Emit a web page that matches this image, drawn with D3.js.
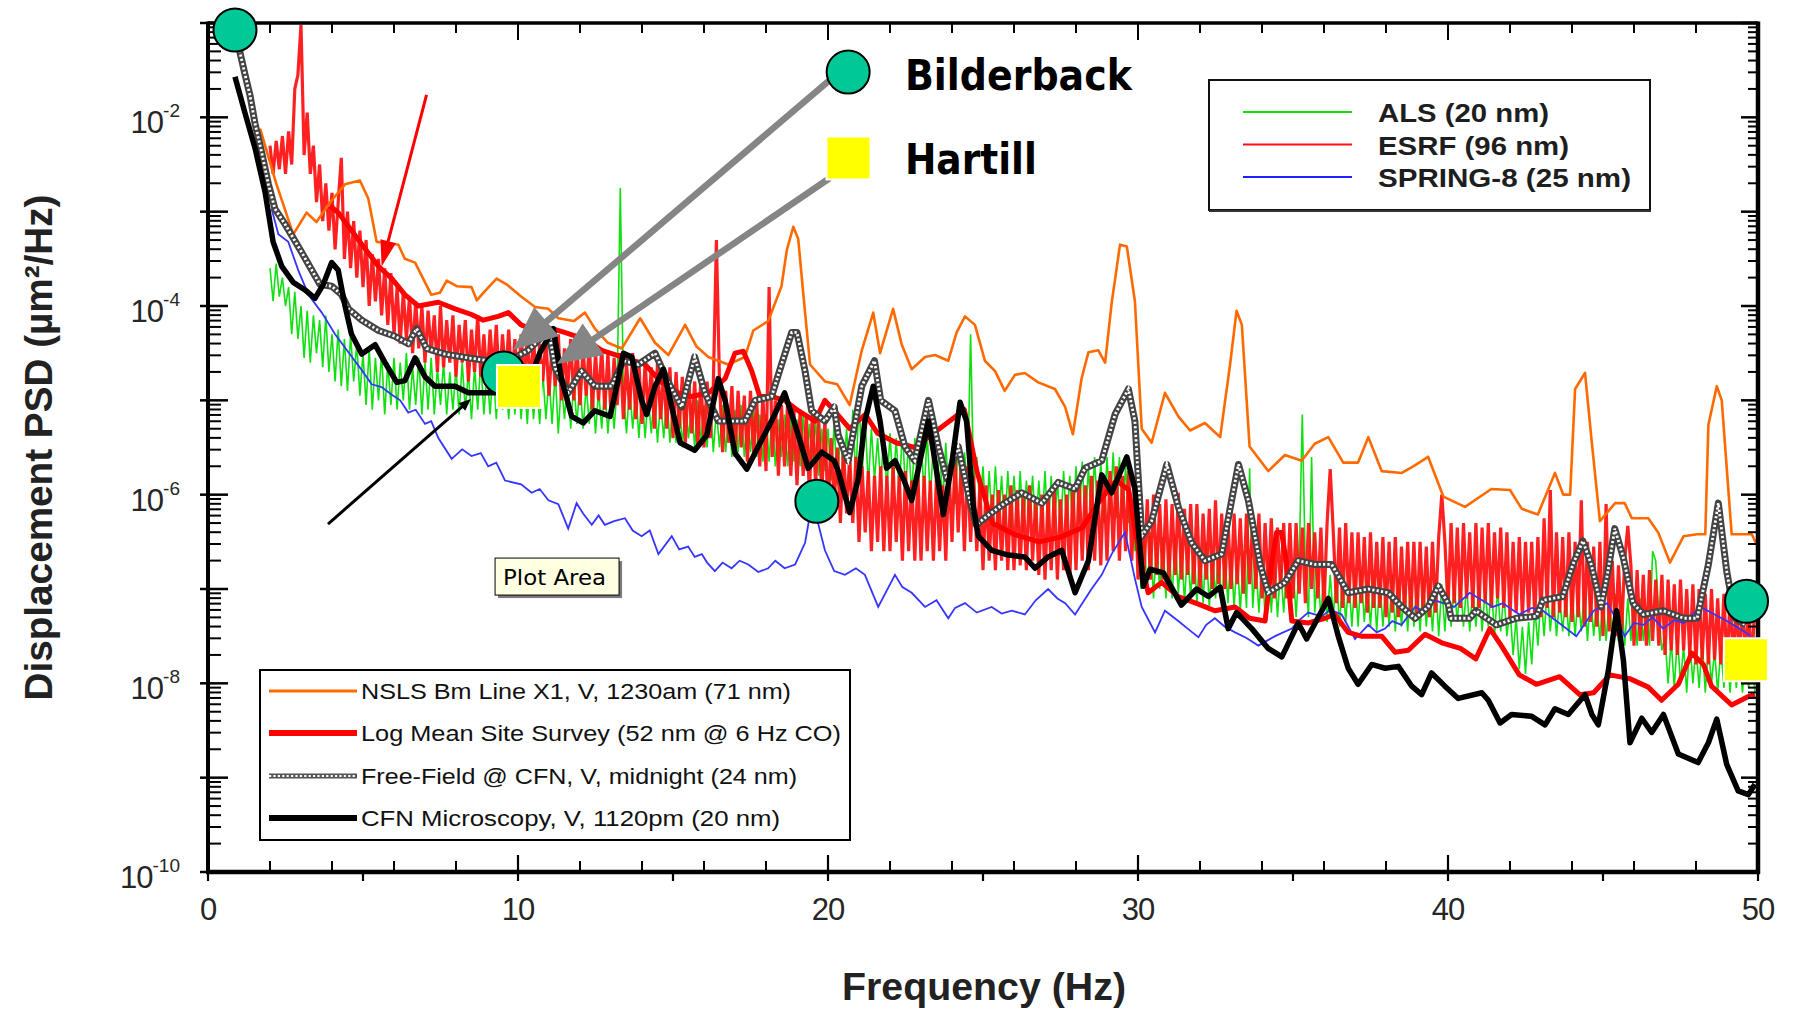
<!DOCTYPE html>
<html><head><meta charset="utf-8">
<script src="https://cdn.jsdelivr.net/npm/d3@7"></script>
<style>html,body{margin:0;padding:0;background:#fff;}svg{display:block;}</style>
</head><body>
<svg id="chart" width="1797" height="1010"></svg>
<script>
// ---------------- DATA (frequency in Hz, PSD given as log10 of µm²/Hz) ----------------
const xTickValues = [0, 10, 20, 30, 40, 50];
const yTickExponents = [-2, -4, -6, -8, -10];
const xAxisTitle = "Frequency (Hz)";
const yAxisTitle = "Displacement PSD (µm²/Hz)";
const legendBottomLabels = ["NSLS Bm Line X1, V, 1230am (71 nm)", "Log Mean Site Survey (52 nm @ 6 Hz CO)", "Free-Field @ CFN, V, midnight (24 nm)", "CFN Microscopy, V, 1120pm (20 nm)"];
const legendTopLabels = ["ALS (20 nm)", "ESRF (96 nm)", "SPRING-8 (25 nm)"];

// NSLS Bm Line X1 (orange)
const nslsLog = [[1.68,-2.12],[2.2,-2.7],[2.75,-3.24],[3.18,-3.01],[3.5,-3.11],[3.94,-2.90],[4.42,-2.71],[4.9,-2.67],[5.17,-2.86],[5.44,-3.32],[5.76,-3.33],[6.14,-3.35],[6.35,-3.50],[6.68,-3.54],[7.2,-3.88],[7.48,-3.86],[7.7,-3.73],[8.02,-3.79],[8.5,-3.80],[8.67,-3.94],[8.94,-3.84],[9.31,-3.71],[9.63,-3.77],[10.1,-3.90],[10.55,-4.01],[10.98,-4.03],[11.3,-4.13],[11.8,-4.16],[12.16,-4.07],[12.48,-4.24],[12.9,-4.39],[13.35,-4.45],[13.94,-4.13],[14.42,-4.39],[14.85,-4.52],[15.39,-4.20],[15.76,-4.43],[16.14,-4.54],[16.78,-4.62],[17.32,-4.54],[17.59,-4.26],[18.07,-4.16],[18.5,-3.79],[18.67,-3.41],[18.88,-3.16],[19.04,-3.29],[19.2,-3.86],[19.42,-4.62],[19.9,-4.80],[20.3,-4.83],[20.7,-5.05],[21.09,-4.47],[21.46,-4.07],[21.68,-4.50],[22.1,-4.03],[22.38,-4.41],[22.7,-4.67],[23.13,-4.54],[23.45,-4.52],[23.88,-4.58],[24.15,-4.28],[24.42,-4.11],[24.74,-4.20],[25.06,-4.58],[25.39,-4.69],[25.7,-4.90],[26.03,-4.73],[26.35,-4.71],[26.78,-4.81],[27.32,-4.88],[27.65,-5.07],[27.9,-5.36],[28.18,-4.77],[28.4,-4.49],[28.72,-4.47],[28.94,-4.60],[29.15,-3.97],[29.42,-3.35],[29.64,-3.37],[29.9,-3.95],[30.12,-5.30],[30.44,-5.45],[30.87,-4.92],[31.3,-5.17],[31.68,-5.32],[32.16,-5.24],[32.65,-5.39],[32.97,-4.62],[33.18,-4.05],[33.35,-4.20],[33.6,-5.49],[34.2,-5.75],[34.74,-5.58],[35.28,-5.64],[35.7,-5.46],[36.14,-5.39],[36.62,-5.66],[37.1,-5.66],[37.43,-5.39],[37.86,-5.75],[38.51,-5.77],[38.88,-5.70],[39.36,-5.60],[39.85,-6.02],[40.55,-6.13],[41.4,-5.94],[42.0,-5.95],[42.38,-6.15],[42.9,-6.21],[43.45,-5.77],[43.72,-6.00],[43.94,-6.00],[44.1,-4.88],[44.42,-4.71],[44.64,-5.45],[44.9,-6.28],[45.39,-6.09],[45.7,-6.09],[45.93,-6.25],[46.46,-6.25],[46.78,-6.40],[47.16,-6.72],[47.6,-6.44],[48.04,-6.42],[48.3,-6.42],[48.4,-5.26],[48.67,-4.85],[48.83,-5.00],[49.15,-6.42],[49.8,-6.42],[49.96,-6.53]];

// Log Mean Site Survey (thick red)
const logMeanLog = [[3.94,-2.94],[4.2,-3.01],[4.63,-3.20],[5.06,-3.39],[5.5,-3.58],[5.93,-3.71],[6.35,-3.88],[6.78,-4.0],[7.43,-3.96],[7.97,-4.03],[8.5,-4.09],[8.88,-4.15],[9.36,-4.11],[9.69,-4.07],[10.1,-4.20],[10.55,-4.26],[11.1,-4.24],[11.5,-4.28],[12.16,-4.35],[12.7,-4.47],[13.35,-4.54],[14.1,-4.62],[14.63,-4.81],[15.17,-4.92],[15.6,-4.96],[16.14,-4.92],[16.68,-4.77],[17.0,-4.50],[17.27,-4.48],[17.54,-4.69],[17.8,-4.96],[18.2,-4.96],[18.6,-5.0],[19.04,-5.11],[19.58,-5.22],[19.9,-5.0],[20.2,-5.11],[20.7,-5.3],[21.2,-5.15],[21.6,-5.35],[22.2,-5.45],[22.8,-5.5],[23.4,-5.35],[24.0,-5.2],[24.4,-5.1],[24.8,-5.75],[25.3,-6.3],[26.0,-6.42],[26.8,-6.5],[27.5,-6.45],[28.2,-6.35],[28.8,-6.05],[29.3,-5.85],[29.7,-5.95],[30.07,-6.7],[30.33,-7.04],[30.76,-6.93],[31.3,-7.08],[31.95,-7.16],[32.48,-7.23],[33.13,-7.19],[33.6,-7.31],[34.1,-7.34],[34.31,-6.74],[34.47,-6.40],[34.63,-6.40],[34.8,-6.74],[34.96,-7.34],[35.5,-7.36],[36.03,-7.31],[36.35,-7.27],[36.78,-7.46],[37.2,-7.50],[37.86,-7.50],[38.29,-7.67],[38.72,-7.65],[39.26,-7.48],[39.8,-7.57],[40.4,-7.63],[40.9,-7.74],[41.35,-7.42],[41.72,-7.60],[42.3,-7.91],[42.85,-8.01],[43.6,-7.93],[44.25,-8.12],[44.7,-8.10],[45.22,-7.91],[45.86,-7.95],[46.46,-8.04],[46.89,-8.18],[47.43,-8.01],[47.86,-7.68],[48.24,-7.80],[48.5,-8.03],[49.15,-8.23],[49.69,-8.14],[49.9,-8.12]];

// Free-Field @ CFN (checkered gray)
const freeFieldLog = [[0.95,-1.15],[1.03,-1.31],[1.19,-1.54],[1.35,-1.76],[1.52,-2.07],[1.73,-2.37],[1.95,-2.71],[2.16,-2.97],[2.48,-3.13],[2.75,-3.28],[3.02,-3.43],[3.35,-3.62],[3.61,-3.77],[3.99,-3.79],[4.31,-3.88],[4.53,-4.03],[4.96,-4.15],[5.5,-4.26],[6.03,-4.32],[6.46,-4.40],[6.73,-4.24],[7.05,-4.45],[7.65,-4.51],[8.4,-4.55],[9.04,-4.58],[9.6,-4.6],[10.33,-4.47],[10.7,-4.35],[10.98,-4.24],[11.2,-4.66],[11.62,-4.92],[12.05,-4.69],[12.48,-4.85],[13.02,-4.85],[13.4,-4.58],[13.88,-4.62],[14.42,-4.50],[14.85,-4.81],[15.28,-5.07],[15.7,-4.54],[16.03,-4.92],[16.46,-5.22],[17.0,-5.22],[17.32,-5.22],[17.65,-5.0],[18.18,-4.96],[18.5,-4.62],[18.83,-4.28],[19.0,-4.28],[19.26,-4.69],[19.47,-5.11],[19.9,-5.22],[20.2,-5.07],[20.33,-5.37],[20.65,-5.64],[21.09,-4.85],[21.5,-4.58],[21.7,-5.0],[22.16,-5.11],[22.48,-5.49],[22.8,-5.64],[23.24,-5.0],[23.56,-5.49],[23.83,-5.83],[24.2,-5.49],[24.52,-5.98],[24.78,-6.32],[25.2,-6.21],[25.7,-6.09],[26.25,-5.98],[26.9,-6.09],[27.43,-5.87],[27.97,-5.94],[28.29,-5.72],[28.83,-5.64],[29.26,-5.15],[29.69,-4.88],[29.9,-5.22],[30.12,-6.44],[30.44,-6.28],[30.93,-5.68],[31.3,-6.13],[31.73,-6.51],[32.16,-6.70],[32.7,-6.63],[33.02,-6.06],[33.24,-5.68],[33.56,-6.06],[33.94,-6.74],[34.2,-7.04],[34.74,-6.93],[35.17,-6.70],[35.7,-6.74],[36.25,-6.74],[36.78,-7.04],[37.43,-7.00],[38.07,-7.04],[38.51,-7.19],[38.94,-7.31],[39.36,-7.19],[39.69,-6.97],[40.0,-7.15],[40.1,-7.31],[40.7,-7.31],[40.9,-7.23],[41.56,-7.38],[42.2,-7.31],[42.85,-7.29],[43.06,-7.12],[43.7,-7.08],[44.03,-6.74],[44.35,-6.49],[44.62,-6.74],[44.94,-7.19],[45.16,-6.81],[45.38,-6.36],[45.65,-6.66],[45.97,-7.15],[46.3,-7.27],[46.94,-7.23],[47.6,-7.31],[48.04,-7.31],[48.4,-6.74],[48.72,-6.09],[48.99,-6.81],[49.26,-7.31],[49.6,-7.38]];

// CFN Microscopy (thick black)
const cfnLog = [[0.87,-1.57],[1.19,-1.95],[1.52,-2.33],[1.84,-2.79],[2.1,-3.32],[2.38,-3.58],[2.75,-3.75],[3.13,-3.83],[3.45,-3.92],[3.72,-3.77],[3.99,-3.54],[4.2,-3.62],[4.42,-4.00],[4.63,-4.30],[4.96,-4.51],[5.39,-4.41],[5.71,-4.60],[6.09,-4.81],[6.35,-4.79],[6.68,-4.55],[7.0,-4.75],[7.32,-4.85],[7.97,-4.85],[8.4,-4.92],[9.04,-4.92],[9.7,-4.92],[10.3,-4.85],[10.7,-4.5],[11.14,-4.24],[11.4,-4.77],[11.73,-5.17],[12.1,-5.24],[12.48,-5.11],[12.97,-5.17],[13.24,-4.77],[13.4,-4.50],[13.67,-4.54],[13.99,-5.0],[14.15,-5.15],[14.42,-4.85],[14.69,-4.67],[14.96,-5.07],[15.23,-5.45],[15.7,-5.53],[16.09,-5.37],[16.46,-4.77],[16.68,-5.0],[17.0,-5.56],[17.38,-5.73],[17.75,-5.49],[18.18,-5.22],[18.6,-4.92],[18.94,-5.26],[19.36,-5.72],[19.8,-5.55],[20.2,-5.64],[20.33,-5.75],[20.7,-6.19],[20.98,-5.83],[21.19,-5.22],[21.46,-4.85],[21.68,-5.22],[21.89,-5.72],[22.16,-5.64],[22.43,-5.83],[22.7,-6.06],[22.97,-5.64],[23.24,-5.22],[23.45,-5.64],[23.72,-6.21],[23.99,-5.68],[24.26,-5.02],[24.47,-5.22],[24.69,-6.13],[24.85,-6.44],[25.28,-6.59],[25.82,-6.64],[26.35,-6.66],[26.68,-6.78],[27.1,-6.66],[27.54,-6.59],[27.97,-7.04],[28.4,-6.70],[28.83,-5.79],[29.15,-5.98],[29.64,-5.60],[29.9,-5.94],[30.17,-6.97],[30.39,-6.79],[30.82,-6.83],[31.4,-7.17],[31.89,-7.0],[32.27,-7.08],[32.65,-6.98],[32.91,-7.42],[33.18,-7.25],[33.67,-7.42],[34.2,-7.63],[34.64,-7.72],[35.17,-7.36],[35.44,-7.53],[36.14,-7.10],[36.46,-7.50],[36.78,-7.84],[37.1,-8.01],[37.54,-7.80],[37.97,-7.84],[38.4,-7.82],[38.83,-8.03],[39.15,-8.12],[39.47,-7.89],[39.9,-8.03],[40.33,-8.16],[41.09,-8.10],[41.3,-8.18],[41.68,-8.42],[42.05,-8.33],[42.7,-8.35],[43.13,-8.44],[43.45,-8.27],[43.88,-8.33],[44.42,-8.12],[44.64,-8.33],[44.85,-8.44],[45.17,-7.87],[45.44,-7.23],[45.66,-7.76],[45.87,-8.63],[46.25,-8.37],[46.57,-8.52],[46.95,-8.33],[47.43,-8.75],[48.07,-8.84],[48.4,-8.63],[48.67,-8.38],[48.99,-8.86],[49.36,-9.14],[49.69,-9.18],[49.9,-9.07]];

// SPRING-8 (blue)
const spring8Log = [[2.05,-2.97],[2.27,-3.24],[2.59,-3.32],[2.91,-3.62],[3.24,-3.88],[3.67,-4.07],[4.1,-4.30],[4.53,-4.49],[4.96,-4.68],[5.28,-4.83],[5.6,-4.86],[5.93,-4.94],[6.2,-5.0],[6.46,-5.13],[6.7,-5.1],[7.0,-5.25],[7.2,-5.22],[7.43,-5.40],[7.86,-5.62],[8.2,-5.52],[8.5,-5.59],[8.8,-5.56],[9.04,-5.70],[9.3,-5.66],[9.58,-5.85],[10.1,-5.89],[10.44,-5.98],[10.7,-5.94],[10.98,-6.06],[11.3,-6.1],[11.62,-6.36],[11.89,-6.09],[12.1,-6.2],[12.38,-6.32],[12.6,-6.22],[12.8,-6.32],[13.1,-6.28],[13.45,-6.25],[13.7,-6.38],[13.99,-6.44],[14.25,-6.38],[14.53,-6.63],[14.96,-6.44],[15.2,-6.58],[15.49,-6.55],[15.7,-6.66],[15.93,-6.63],[16.1,-6.72],[16.35,-6.81],[16.6,-6.72],[16.89,-6.78],[17.15,-6.70],[17.43,-6.74],[17.75,-6.82],[18.07,-6.78],[18.3,-6.70],[18.6,-6.78],[18.94,-6.74],[19.26,-6.51],[19.42,-6.21],[19.64,-6.25],[19.9,-6.59],[20.2,-6.81],[20.55,-6.85],[20.9,-6.78],[21.19,-6.85],[21.62,-7.19],[22.16,-6.85],[22.4,-6.98],[22.7,-7.04],[23.13,-7.19],[23.5,-7.12],[23.88,-7.31],[24.1,-7.2],[24.42,-7.15],[24.8,-7.25],[25.28,-7.19],[25.6,-7.26],[25.93,-7.23],[26.35,-7.27],[26.7,-7.12],[27.1,-7.0],[27.4,-7.1],[27.65,-7.15],[27.97,-7.27],[28.5,-7.0],[28.83,-6.85],[29.15,-6.63],[29.58,-6.40],[29.9,-6.89],[30.12,-7.19],[30.55,-7.46],[30.87,-7.23],[31.3,-7.34],[31.6,-7.42],[31.95,-7.51],[32.2,-7.38],[32.48,-7.31],[32.8,-7.40],[33.13,-7.46],[33.5,-7.52],[33.88,-7.60],[34.42,-7.50],[34.96,-7.42],[35.2,-7.33],[35.49,-7.25],[35.93,-7.29],[36.2,-7.22],[36.57,-7.27],[37.0,-7.53],[37.43,-7.38],[37.7,-7.46],[37.97,-7.42],[38.2,-7.34],[38.5,-7.38],[38.94,-7.19],[39.25,-7.24],[39.58,-7.12],[40.2,-7.19],[40.7,-7.04],[41.1,-7.12],[41.45,-7.19],[41.77,-7.15],[42.3,-7.27],[42.7,-7.20],[43.06,-7.23],[43.5,-7.34],[44.14,-7.50],[44.7,-7.23],[45.13,-7.15],[45.4,-7.30],[45.7,-7.50],[46.0,-7.36],[46.3,-7.38],[46.6,-7.30],[46.94,-7.42],[47.3,-7.33],[47.6,-7.36],[48.15,-7.19],[48.6,-7.27],[49.0,-7.34],[49.6,-7.46],[49.76,-7.50]];

// ESRF (noisy red), one value per 0.1 Hz starting at 2.0 Hz
const esrfStartHz = 2.0, esrfStepHz = 0.1;
const esrfLog = [
-2.3,-2.6,-2.25,-2.55,-2.2,-2.6,-2.15,-2.5,-1.7,-1.55,
-1.02,-2.4,-1.95,-2.6,-2.3,-2.9,-2.5,-3.1,-2.7,-3.2,
-2.8,-3.4,-2.9,-2.43,-3.5,-3.0,-3.6,-3.1,-3.7,-3.2,
-3.8,-3.3,-4.0,-3.45,-3.95,-3.5,-4.1,-3.6,-4.2,-3.65,
-4.3,-3.8,-4.4,-3.85,-4.35,-3.9,-4.5,-3.95,-4.45,-4.0,
-4.6,-4.05,-4.5,-4.1,-4.7,-4.0,-4.65,-4.15,-4.6,-4.1,
-4.75,-4.2,-4.6,-4.15,-4.8,-4.25,-4.7,-4.1,-4.75,-4.3,
-4.8,-4.25,-4.7,-4.2,-4.85,-4.3,-4.75,-4.25,-4.8,-4.35,
-4.9,-4.3,-4.8,-4.35,-4.85,-4.3,-4.95,-4.4,-4.8,-4.35,
-4.95,-4.4,-4.85,-4.3,-5.0,-4.45,-4.9,-4.35,-5.0,-4.4,
-5.05,-4.45,-4.95,-4.4,-5.1,-4.5,-5.0,-4.45,-5.1,-4.5,
-5.15,-4.55,-5.05,-4.5,-5.2,-4.6,-5.1,-4.5,-5.2,-4.6,
-5.25,-4.6,-5.15,-4.65,-5.3,-4.6,-5.2,-4.7,-5.3,-4.65,
-5.4,-4.7,-5.3,-4.75,-5.45,-4.7,-5.35,-4.8,-5.5,-4.75,
-5.5,-4.8,-5.4,-4.85,-3.3,-4.8,-5.55,-4.9,-5.45,-4.85,
-5.6,-4.9,-5.5,-4.95,-5.65,-4.9,-5.55,-5.0,-5.7,-4.95,
-5.75,-3.8,-5.6,-5.0,-5.8,-5.05,-5.7,-5.0,-5.8,-5.1,
-5.9,-5.1,-5.8,-5.15,-6.0,-5.1,-5.9,-5.2,-6.0,-5.2,
-6.2,-5.4,-6.1,-5.5,-6.3,-5.5,-6.2,-5.6,-6.3,-5.6,
-6.5,-5.7,-6.4,-5.75,-6.6,-5.8,-6.5,-5.7,-6.6,-5.8,
-6.6,-5.7,-6.5,-5.8,-6.7,-5.75,-6.6,-5.85,-6.7,-5.8,
-6.7,-5.8,-6.6,-5.85,-6.7,-5.8,-6.6,-5.9,-6.7,-5.7,
-6.5,-5.6,-6.4,-5.65,-6.6,-5.7,-6.5,-5.8,-6.6,-5.9,
-6.8,-5.9,-6.7,-6.0,-6.8,-5.95,-6.7,-6.0,-6.8,-5.9,
-6.8,-5.95,-6.75,-6.0,-6.8,-5.9,-6.7,-6.05,-6.85,-6.0,
-6.9,-6.0,-6.8,-5.95,-6.9,-6.05,-6.8,-6.0,-6.9,-5.9,
-6.8,-5.85,-6.7,-5.9,-6.8,-5.8,-6.7,-5.85,-6.75,-5.8,
-6.7,-5.75,-6.6,-5.7,-6.7,-5.8,-6.6,-5.75,-6.7,-5.8,
-6.9,-6.0,-6.8,-6.05,-6.9,-6.0,-6.85,-6.1,-6.9,-6.05,
-6.9,-6.1,-6.85,-5.98,-6.9,-6.15,-6.85,-6.1,-6.95,-6.1,
-7.0,-6.2,-6.9,-6.15,-7.0,-6.06,-6.95,-6.2,-7.0,-6.25,
-7.0,-6.2,-6.95,-6.25,-7.05,-6.2,-6.95,-6.3,-7.0,-6.2,
-7.1,-6.3,-7.0,-6.25,-7.1,-6.35,-7.0,-6.3,-7.1,-6.3,
-7.1,-6.3,-7.05,-6.35,-7.15,-6.3,-7.0,-6.4,-7.1,-6.35,
-7.2,-6.3,-5.73,-6.4,-7.15,-6.35,-7.2,-6.3,-7.15,-6.4,
-7.2,-6.4,-7.15,-6.45,-7.25,-6.4,-7.2,-6.5,-7.2,-6.45,
-7.3,-6.5,-7.25,-6.45,-7.3,-6.55,-7.25,-6.5,-7.3,-6.5,
-7.3,-6.5,-7.25,-6.55,-7.3,-6.5,-7.25,-6.45,-6.0,-6.5,
-7.2,-6.3,-7.15,-6.35,-7.2,-6.3,-7.1,-6.4,-7.2,-6.3,
-7.2,-6.35,-7.15,-6.3,-7.2,-6.4,-7.1,-6.35,-7.2,-6.4,
-7.3,-6.5,-7.25,-6.45,-7.3,-6.5,-7.25,-6.5,-7.3,-6.45,
-7.3,-6.25,-7.2,-5.95,-7.3,-6.4,-7.25,-6.45,-7.3,-6.4,
-7.35,-6.5,-7.3,-6.06,-7.4,-6.5,-7.35,-6.55,-7.4,-6.5,
-7.5,-6.1,-7.45,-6.7,-7.5,-6.75,-7.45,-6.7,-6.33,-6.75,
-7.6,-6.8,-7.55,-6.85,-7.6,-6.8,-7.55,-6.9,-7.6,-6.85,
-7.7,-6.9,-7.65,-6.95,-7.7,-6.9,-7.65,-7.0,-7.7,-6.95,
-7.8,-7.0,-7.75,-7.05,-7.8,-7.0,-7.75,-7.1,-7.8,-7.05,
-7.8,-7.1,-7.75,-7.15,-7.8,-7.1,-7.75,-7.2,-7.8,-7.15];

// ALS (noisy green), one value per 0.1 Hz starting at 2.0 Hz
const alsStartHz = 2.0, alsStepHz = 0.1;
const alsLog = [
-3.6,-3.95,-3.55,-3.9,-3.7,-4.0,-3.8,-4.3,-3.85,-4.35,
-4.0,-4.55,-4.05,-4.6,-4.1,-4.5,-4.15,-4.65,-4.1,-4.7,
-4.3,-4.8,-4.25,-4.85,-4.35,-4.9,-4.3,-4.8,-4.4,-4.95,
-4.5,-5.05,-4.45,-5.1,-4.55,-5.0,-4.5,-5.15,-4.6,-5.05,
-4.55,-5.1,-4.6,-5.0,-4.5,-5.1,-4.65,-5.05,-4.55,-5.15,
-4.6,-5.1,-4.55,-5.15,-4.65,-5.05,-4.6,-5.15,-4.7,-5.1,
-4.65,-5.15,-4.6,-5.1,-4.7,-5.2,-4.65,-5.1,-4.6,-5.15,
-4.7,-5.15,-4.65,-5.2,-4.7,-5.1,-4.75,-5.2,-4.65,-5.15,
-4.7,-5.2,-4.75,-5.25,-4.7,-5.2,-4.8,-5.25,-4.7,-5.2,
-4.75,-5.25,-4.7,-5.35,-4.8,-5.2,-4.75,-5.3,-4.8,-5.25,
-4.8,-5.3,-4.85,-5.25,-4.8,-5.35,-4.9,-5.3,-4.85,-5.35,
-4.9,-5.3,-4.85,-2.75,-4.9,-5.35,-4.85,-5.3,-4.9,-5.4,
-4.9,-5.4,-4.95,-5.35,-4.9,-5.45,-5.0,-5.4,-4.95,-5.45,
-5.0,-5.45,-4.95,-5.5,-5.0,-5.4,-5.05,-5.5,-5.0,-5.45,
-5.05,-5.5,-5.0,-5.55,-5.1,-5.5,-5.05,-5.55,-5.1,-5.6,
-5.1,-5.55,-5.05,-5.6,-5.15,-5.55,-5.1,-5.6,-5.15,-5.65,
-5.15,-5.65,-5.1,-5.7,-5.2,-5.6,-5.15,-5.7,-5.2,-5.65,
-5.2,-5.7,-5.15,-5.75,-5.25,-5.7,-5.2,-5.8,-5.3,-5.75,
-5.3,-5.85,-5.25,-5.9,-5.35,-5.8,-5.3,-5.9,-5.1,-5.85,
-4.96,-5.8,-5.2,-5.9,-5.3,-5.85,-5.4,-5.9,-5.35,-5.95,
-5.35,-5.95,-5.4,-6.0,-5.3,-5.95,-5.45,-6.0,-5.4,-6.05,
-5.4,-6.0,-5.35,-6.05,-5.45,-6.0,-5.5,-6.1,-5.45,-6.05,
-5.5,-6.1,-5.45,-6.0,-5.55,-5.9,-4.3,-5.9,-5.6,-6.15,
-5.7,-6.3,-5.75,-6.35,-5.7,-6.3,-5.8,-6.4,-5.75,-6.35,
-5.8,-6.35,-5.75,-6.4,-5.85,-6.3,-5.8,-6.4,-5.85,-6.35,
-5.75,-6.4,-5.8,-6.35,-5.85,-6.4,-5.75,-6.35,-5.8,-6.4,
-5.7,-6.3,-5.65,-6.35,-5.7,-6.3,-5.6,-6.25,-5.65,-6.3,
-5.6,-6.2,-5.55,-6.25,-5.6,-6.2,-5.7,-6.3,-6.2,-6.6,
-6.4,-7.0,-6.45,-7.05,-6.4,-7.1,-6.5,-7.0,-6.45,-7.1,
-6.5,-7.1,-6.45,-7.05,-6.5,-7.15,-6.55,-7.1,-6.5,-7.15,
-6.55,-7.15,-6.5,-7.2,-6.6,-7.1,-6.55,-7.2,-6.6,-7.15,
-6.6,-7.2,-6.65,-7.25,-6.6,-7.2,-5.72,-7.2,-6.7,-7.25,
-6.7,-7.3,-6.65,-7.25,-6.7,-7.3,-6.75,-7.25,-6.7,-7.3,
-6.75,-7.3,-6.7,-5.15,-6.8,-7.3,-5.6,-7.25,-6.8,-7.3,
-6.8,-7.35,-6.85,-7.3,-6.8,-7.4,-6.85,-7.35,-6.9,-7.4,
-6.85,-7.4,-6.8,-7.35,-6.9,-7.4,-6.85,-7.45,-6.9,-7.4,
-6.9,-7.4,-6.85,-7.45,-6.9,-7.4,-6.95,-7.45,-6.9,-7.4,
-6.95,-7.45,-6.9,-7.4,-6.95,-7.45,-6.9,-7.5,-6.95,-7.45,
-6.9,-7.4,-6.95,-7.35,-6.9,-7.4,-6.95,-7.45,-7.0,-7.4,
-6.95,-7.45,-7.0,-7.4,-6.95,-7.5,-7.0,-7.45,-7.05,-7.5,
-7.2,-7.7,-7.3,-7.85,-7.4,-7.9,-7.35,-7.8,-7.2,-7.6,
-7.05,-7.5,-7.0,-7.45,-7.05,-7.5,-7.1,-7.45,-7.05,-7.5,
-7.0,-7.5,-7.05,-7.45,-7.0,-7.55,-7.05,-7.5,-7.1,-7.55,
-7.05,-7.55,-7.1,-7.5,-7.05,-7.55,-7.1,-7.6,-7.1,-7.55,
-7.15,-7.6,-7.1,-7.55,-7.2,-7.6,-6.6,-6.7,-7.25,-7.65,
-7.5,-8.0,-7.55,-8.05,-7.5,-8.0,-7.6,-8.1,-7.55,-8.0,
-7.6,-8.05,-7.55,-8.1,-7.6,-8.0,-7.65,-8.1,-7.6,-8.05,
-7.65,-8.1,-7.6,-8.05,-7.7,-8.1,-7.65,-8.05,-7.7,-8.1];

// Annotations, in data units [Hz, log10 PSD]
const circleMarks = [[0.87,-1.074],[20.65,-1.52],[9.53,-4.71],[19.64,-6.07],[49.63,-7.13]];
const squareMarks = [[10.03,-4.853],[20.66,-2.431],[49.61,-7.75]];
const grayArrows = [[[20.06,-1.604],[9.84,-4.467]],[[20.06,-2.643],[11.26,-4.615]]];
const redArrow = [[7.05,-1.763],[5.60,-3.580]];
const blackArrow = [[3.87,-6.311],[8.48,-4.986]];
const annotLabels = [{t:"Bilderback", at:[22.48,-1.705], w:227},{t:"Hartill", at:[22.48,-2.601], w:132}];
const tooltipAt = [9.26,-6.672];

// ---------------- CHART ----------------
const svg = d3.select("#chart");
const L = 208, R = 1758, T = 23, B = 872;
const x = d3.scaleLinear().domain([0, 50]).range([L, R]);
const y = d3.scaleLog().domain([1e-10, 1e-1]).range([B, T]);
const P = e => Math.pow(10, e);
const px = d => x(d[0]), py = d => y(P(d[1]));
const line = d3.line().x(px).y(py);
const gridSeries = (start, step, arr) => arr.map((e, i) => [start + i * step, e]);

svg.append("rect").attr("width", 1797).attr("height", 1010).attr("fill", "#fff");
svg.append("defs").append("clipPath").attr("id", "clip")
  .append("rect").attr("x", L).attr("y", T).attr("width", R - L).attr("height", B - T);

const plot = svg.append("g").attr("clip-path", "url(#clip)");

// ALS
plot.append("path").datum(gridSeries(alsStartHz, alsStepHz, alsLog)).attr("d", line)
  .attr("fill", "none").attr("stroke", "#10e010").attr("stroke-width", 1.6);
// ESRF
plot.append("path").datum(gridSeries(esrfStartHz, esrfStepHz, esrfLog)).attr("d", line)
  .attr("fill", "none").attr("stroke", "#ff1010").attr("stroke-width", 3.2).attr("stroke-opacity", 0.93);
// SPRING-8
plot.append("path").datum(spring8Log).attr("d", line)
  .attr("fill", "none").attr("stroke", "#3535ff").attr("stroke-width", 1.8);
// NSLS
plot.append("path").datum(nslsLog).attr("d", line)
  .attr("fill", "none").attr("stroke", "#ff6a00").attr("stroke-width", 2.6).attr("stroke-linejoin", "round");
// Log mean
plot.append("path").datum(logMeanLog).attr("d", line)
  .attr("fill", "none").attr("stroke", "#ff0000").attr("stroke-width", 5).attr("stroke-linejoin", "round");
// Free field (checkered)
plot.append("path").datum(freeFieldLog).attr("d", line)
  .attr("fill", "none").attr("stroke", "#444").attr("stroke-width", 7).attr("stroke-linejoin", "round");
plot.append("path").datum(freeFieldLog).attr("d", line)
  .attr("fill", "none").attr("stroke", "#ffffff").attr("stroke-width", 2.8).attr("stroke-dasharray", "2.2,2.2");
// CFN microscopy
plot.append("path").datum(cfnLog).attr("d", line)
  .attr("fill", "none").attr("stroke", "#000").attr("stroke-width", 5.5).attr("stroke-linejoin", "round");

// ---------------- AXES ----------------
const ax = svg.append("g").attr("stroke", "#000").attr("fill", "none");
const minorY = [];
for (let k = -10; k < -1; k++) for (let m = 2; m <= 9; m++) minorY.push(m * P(k));
const decadesY = d3.range(-10, 0).map(P);
const seg = (x1, y1, x2, y2, w) => ax.append("line").attr("x1", x1).attr("y1", y1).attr("x2", x2).attr("y2", y2).attr("stroke-width", w);
minorY.forEach(v => { seg(L, y(v), L + 13, y(v), 2); seg(R, y(v), R - 10, y(v), 2); });
decadesY.forEach(v => { seg(L - 8, y(v), L + 20, y(v), 2.5); seg(R + 0, y(v), R - 17, y(v), 2.5); });
d3.range(0, 51, 2).forEach(v => {
  const len = v % 10 === 0 ? 17 : 11;
  seg(x(v), B, x(v), B - len, 2);
  seg(x(v), T, x(v), T + (v % 10 === 0 ? 17 : 10), 2);
});
d3.range(0, 51, 5).forEach(v => seg(x(v), B, x(v), B + 9, 2.2));
xTickValues.forEach(v => seg(x(v), B, x(v), B - 17, 2.2));
seg(L, T, R, T, 3.5); seg(R, T - 1.5, R, B + 2, 4.5); seg(L, T - 1.5, L, B + 2, 4); seg(L - 2, B, R + 2, B, 4.5);

// tick labels
const tl = svg.append("g").attr("font-family", "'Liberation Sans', Arial, sans-serif").attr("fill", "#262626");
xTickValues.forEach(v => {
  tl.append("text").attr("x", x(v)).attr("y", 920).attr("text-anchor", "middle")
    .attr("font-size", 31).attr("letter-spacing", -1).text(v);
});
yTickExponents.forEach(k => {
  const t = tl.append("text").attr("x", 180).attr("y", y(P(k)) + 16).attr("text-anchor", "end");
  t.append("tspan").attr("font-size", 31).attr("letter-spacing", -1).text("10");
  t.append("tspan").attr("font-size", 19).attr("dy", -16).text(String(k));
});

// axis titles
const titles = svg.append("g").attr("font-family", "'Liberation Sans', Arial, sans-serif").attr("font-weight", "bold").attr("fill", "#222");
titles.append("text").attr("x", (L + R) / 2 + 1).attr("y", 1000).attr("text-anchor", "middle")
  .attr("font-size", 38).attr("textLength", 284).attr("lengthAdjust", "spacingAndGlyphs").text(xAxisTitle);
titles.append("text").attr("transform", `translate(52,${(T + B) / 2}) rotate(-90)`).attr("text-anchor", "middle")
  .attr("font-size", 38).attr("textLength", 506).attr("lengthAdjust", "spacingAndGlyphs").text(yAxisTitle);

// ---------------- LEGENDS ----------------
const lgB = svg.append("g");
lgB.append("rect").attr("x", 260).attr("y", 670).attr("width", 590).attr("height", 170)
  .attr("fill", "#fff").attr("stroke", "#000").attr("stroke-width", 2);
const rowsB = [691, 733, 776, 818];
const bWidths = [430, 480, 436, 419];
const bStyles = [{c: "#ff6a00", w: 3}, {c: "#ff0000", w: 6}, {c: "#555", w: 5, ff: true}, {c: "#000", w: 6}];
legendBottomLabels.forEach((lab, i) => {
  const s = bStyles[i];
  lgB.append("line").attr("x1", 269).attr("x2", 357).attr("y1", rowsB[i]).attr("y2", rowsB[i])
    .attr("stroke", s.c).attr("stroke-width", s.w);
  if (s.ff) lgB.append("line").attr("x1", 269).attr("x2", 357).attr("y1", rowsB[i]).attr("y2", rowsB[i])
    .attr("stroke", "#fff").attr("stroke-width", 2).attr("stroke-dasharray", "2.2,2.2");
  lgB.append("text").attr("x", 361).attr("y", rowsB[i] + 8).attr("font-family", "'Liberation Sans', Arial, sans-serif")
    .attr("font-size", 22).attr("fill", "#111").attr("textLength", bWidths[i]).attr("lengthAdjust", "spacingAndGlyphs").text(lab);
});

const lgT = svg.append("g");
lgT.append("rect").attr("x", 1209).attr("y", 80).attr("width", 441).attr("height", 130)
  .attr("fill", "#fff").attr("stroke", "#111").attr("stroke-width", 2);
lgT.append("line").attr("x1", 1209).attr("x2", 1651).attr("y1", 211).attr("y2", 211).attr("stroke", "#333").attr("stroke-width", 2);
const rowsT = [112, 144.5, 177];
const tColors = ["#10e010", "#ff1010", "#2020ff"];
const tWidths = [171, 191, 253];
legendTopLabels.forEach((lab, i) => {
  lgT.append("line").attr("x1", 1243).attr("x2", 1352).attr("y1", rowsT[i]).attr("y2", rowsT[i])
    .attr("stroke", tColors[i]).attr("stroke-width", 2);
  lgT.append("text").attr("x", 1378).attr("y", rowsT[i] + 10).attr("font-family", "'Liberation Sans', Arial, sans-serif")
    .attr("font-weight", "bold").attr("font-size", 25).attr("fill", "#1e1e1e")
    .attr("textLength", tWidths[i]).attr("lengthAdjust", "spacingAndGlyphs").text(lab);
});

// ---------------- ANNOTATIONS ----------------
const an = svg.append("g");
function arrow(g, a, b, color, w, hl, hw) {
  const x1 = px(a), y1 = py(a), x2 = px(b), y2 = py(b);
  const dx = x2 - x1, dy = y2 - y1, len = Math.hypot(dx, dy), ux = dx / len, uy = dy / len;
  const bx = x2 - ux * hl, by = y2 - uy * hl;
  g.append("line").attr("x1", x1).attr("y1", y1).attr("x2", bx + ux * 2).attr("y2", by + uy * 2)
    .attr("stroke", color).attr("stroke-width", w);
  g.append("polygon").attr("fill", color)
    .attr("points", [[x2, y2], [bx - uy * hw, by + ux * hw], [bx + uy * hw, by - ux * hw]].map(p => p.join(",")).join(" "));
}
arrow(an, redArrow[0], redArrow[1], "#ff0000", 3, 26, 8);
arrow(an, blackArrow[0], blackArrow[1], "#000", 3, 12, 5);
grayArrows.forEach(a => arrow(an, a[0], a[1], "#858585", 6.5, 44, 19));

an.selectAll("circle.mk").data(circleMarks).join("circle").attr("class", "mk")
  .attr("cx", px).attr("cy", py).attr("r", 21.5)
  .attr("fill", "#00c896").attr("stroke", "#000").attr("stroke-width", 2);
an.selectAll("rect.sq").data(squareMarks).join("rect").attr("class", "sq")
  .attr("x", d => px(d) - 22).attr("y", d => py(d) - 21.5).attr("width", 44).attr("height", 43)
  .attr("fill", "#ffff00").attr("stroke", "#fff").attr("stroke-width", 2);

annotLabels.forEach(l => {
  an.append("text").attr("x", px(l.at)).attr("y", py(l.at))
    .attr("font-family", "'DejaVu Sans Condensed', 'DejaVu Sans', sans-serif").attr("font-weight", "bold")
    .attr("font-size", 42).attr("fill", "#000").attr("textLength", l.w).attr("lengthAdjust", "spacingAndGlyphs").text(l.t);
});

const tx = px(tooltipAt), ty = py(tooltipAt);
an.append("rect").attr("x", tx + 3).attr("y", ty + 3).attr("width", 124).attr("height", 37).attr("fill", "#7a7a7a");
an.append("rect").attr("x", tx).attr("y", ty).attr("width", 124).attr("height", 37)
  .attr("fill", "#ffffe1").attr("stroke", "#000").attr("stroke-width", 1);
an.append("text").attr("x", tx + 8).attr("y", ty + 26.5)
  .attr("font-family", "'DejaVu Sans Condensed', 'DejaVu Sans', sans-serif").attr("font-size", 22).attr("fill", "#000")
  .attr("textLength", 103).attr("lengthAdjust", "spacingAndGlyphs").text("Plot Area");
</script>
</body></html>
